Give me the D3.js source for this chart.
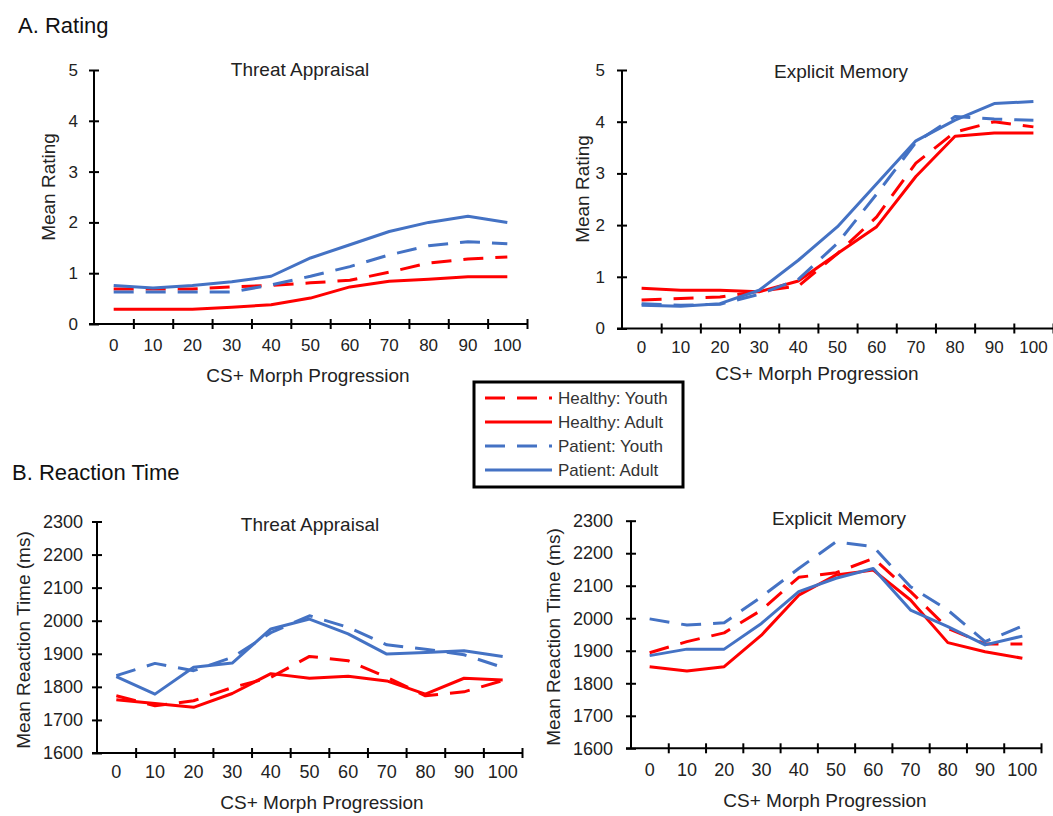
<!DOCTYPE html>
<html>
<head>
<meta charset="utf-8">
<script src="https://cdn.jsdelivr.net/npm/d3@7"></script>
<style>
  html, body { margin: 0; padding: 0; background: #fff; }
  svg { display: block; font-family: "Liberation Sans", Arial, Helvetica, sans-serif; }
</style>
</head>
<body>
<svg id="chart" width="1053" height="816"></svg>
<script>
// ---------------- DATA ----------------
const categories = ["0", "10", "20", "30", "40", "50", "60", "70", "80", "90", "100"];
const seriesNames = ["Healthy: Youth", "Healthy: Adult", "Patient: Youth", "Patient: Adult"];
const ratingTicks = [0, 1, 2, 3, 4, 5];
const rtTicks = [1600, 1700, 1800, 1900, 2000, 2100, 2200, 2300];

// A. Rating — Threat Appraisal
const ratingThreatHealthyYouth = [0.69, 0.69, 0.69, 0.73, 0.76, 0.81, 0.86, 1.02, 1.20, 1.28, 1.32];
const ratingThreatHealthyAdult = [0.29, 0.29, 0.29, 0.33, 0.38, 0.51, 0.73, 0.84, 0.88, 0.93, 0.93];
const ratingThreatPatientYouth = [0.63, 0.63, 0.63, 0.63, 0.77, 0.94, 1.13, 1.36, 1.54, 1.62, 1.58];
const ratingThreatPatientAdult = [0.76, 0.71, 0.76, 0.83, 0.94, 1.30, 1.56, 1.82, 2.00, 2.12, 2.00];

// A. Rating — Explicit Memory
const ratingMemoryHealthyYouth = [0.55, 0.58, 0.61, 0.72, 0.82, 1.45, 2.16, 3.20, 3.80, 4.00, 3.90];
const ratingMemoryHealthyAdult = [0.78, 0.74, 0.74, 0.71, 0.92, 1.45, 1.97, 2.94, 3.72, 3.78, 3.78];
const ratingMemoryPatientYouth = [0.48, 0.45, 0.47, 0.66, 0.95, 1.65, 2.60, 3.60, 4.10, 4.05, 4.03];
const ratingMemoryPatientAdult = [0.45, 0.43, 0.48, 0.74, 1.32, 1.97, 2.80, 3.63, 4.03, 4.35, 4.39];

// B. Reaction Time — Threat Appraisal
const rtThreatHealthyYouth = [1773, 1743, 1758, 1798, 1829, 1892, 1879, 1829, 1773, 1785, 1819];
const rtThreatHealthyAdult = [1761, 1750, 1738, 1780, 1840, 1826, 1832, 1818, 1778, 1826, 1821];
const rtThreatPatientYouth = [1834, 1871, 1849, 1889, 1964, 2015, 1980, 1927, 1914, 1897, 1859];
const rtThreatPatientAdult = [1831, 1778, 1859, 1872, 1975, 2005, 1960, 1899, 1904, 1909, 1892];

// B. Reaction Time — Explicit Memory
const rtMemoryHealthyYouth = [1894, 1928, 1955, 2025, 2126, 2140, 2184, 2082, 1969, 1921, 1921];
const rtMemoryHealthyAdult = [1851, 1838, 1851, 1948, 2071, 2133, 2148, 2056, 1925, 1897, 1877];
const rtMemoryPatientYouth = [1998, 1979, 1986, 2066, 2153, 2235, 2220, 2097, 2025, 1928, 1976];
const rtMemoryPatientAdult = [1885, 1905, 1905, 1984, 2082, 2123, 2153, 2025, 1974, 1918, 1945];

// ---------------- STYLE ----------------
const RED = "#ff0000";
const BLUE = "#4472c4";
const styles = [
  { color: RED,  dash: "20,12" },
  { color: RED,  dash: null },
  { color: BLUE, dash: "20,12" },
  { color: BLUE, dash: null }
];
const FONT = '"Liberation Sans", Arial, Helvetica, sans-serif';

const svg = d3.select("#chart");

function panel(cfg) {
  const g = svg.append("g");
  const x = d3.scaleBand().domain(categories).range([cfg.x0, cfg.x1]).padding(0);
  const xEdge = d3.scaleLinear().domain([0, categories.length]).range([cfg.x0, cfg.x1]);
  const y = d3.scaleLinear().domain(cfg.domain).range([cfg.yBottom, cfg.yTop]);

  // series lines
  const line = d3.line()
    .x((d, i) => x(categories[i]) + x.bandwidth() / 2)
    .y(d => y(d));
  cfg.series.forEach((vals, i) => {
    g.append("path")
      .datum(vals)
      .attr("d", line)
      .attr("fill", "none")
      .attr("stroke", styles[i].color)
      .attr("stroke-width", 3)
      .attr("stroke-linejoin", "round")
      .attr("stroke-dasharray", styles[i].dash);
  });

  // y axis
  const yAxis = g.append("g")
    .attr("transform", `translate(${cfg.x0},0)`)
    .call(d3.axisLeft(y).tickValues(cfg.yTicks).tickFormat(d3.format("d"))
      .tickSize(5).tickPadding(cfg.yPad).tickSizeOuter(0));
  yAxis.select(".domain").attr("stroke", "#000").attr("stroke-width", 2)
    .attr("d", `M0,${cfg.yBottom}V${cfg.yTop}`);
  yAxis.selectAll(".tick line").attr("x1", 5).attr("stroke-width", 2);
  yAxis.selectAll(".tick text").attr("font-size", cfg.tickFont).attr("font-family", FONT).attr("fill", "#222");

  // x axis: tick marks at category boundaries
  const xTicksG = g.append("g")
    .attr("transform", `translate(0,${cfg.yBottom})`)
    .call(d3.axisBottom(xEdge).tickValues(d3.range(1, categories.length + 1)).tickSize(5).tickFormat("").tickSizeOuter(0));
  xTicksG.select(".domain").attr("stroke", "#000").attr("stroke-width", 2)
    .attr("d", `M${cfg.x0 - 5},0H${cfg.x1}`);
  xTicksG.selectAll(".tick line").attr("y1", -5).attr("stroke-width", 2);

  // x axis: labels centered in categories
  const xLab = g.append("g")
    .attr("transform", `translate(0,${cfg.yBottom})`)
    .call(d3.axisBottom(x).tickSize(0).tickPadding(cfg.xPad));
  xLab.select(".domain").remove();
  xLab.selectAll(".tick text").attr("font-size", cfg.tickFont).attr("font-family", FONT).attr("fill", "#222");

  // titles
  g.append("text").attr("x", cfg.title[0]).attr("y", cfg.title[1])
    .attr("text-anchor", "middle").attr("font-size", 19).attr("fill", "#222").text(cfg.titleText);
  g.append("text").attr("x", cfg.xTitle[0]).attr("y", cfg.xTitle[1])
    .attr("text-anchor", "middle").attr("font-size", 19).attr("fill", "#222").text("CS+ Morph Progression");
  g.append("text")
    .attr("transform", `translate(${cfg.yTitle[0]},${cfg.yTitle[1]}) rotate(-90)`)
    .attr("text-anchor", "middle").attr("font-size", 19).attr("fill", "#222").text(cfg.yTitleText);
}

panel({
  x0: 94, x1: 527, yBottom: 324, yTop: 70, domain: [0, 5], yTicks: ratingTicks,
  yPad: 11, xPad: 15, tickFont: 17,
  series: [ratingThreatHealthyYouth, ratingThreatHealthyAdult, ratingThreatPatientYouth, ratingThreatPatientAdult],
  titleText: "Threat Appraisal", title: [300, 76],
  xTitle: [308, 382], yTitle: [55, 187], yTitleText: "Mean Rating"
});
panel({
  x0: 622, x1: 1053, yBottom: 328.5, yTop: 70, domain: [0, 5], yTicks: ratingTicks,
  yPad: 12, xPad: 12, tickFont: 17,
  series: [ratingMemoryHealthyYouth, ratingMemoryHealthyAdult, ratingMemoryPatientYouth, ratingMemoryPatientAdult],
  titleText: "Explicit Memory", title: [841, 78],
  xTitle: [817, 380], yTitle: [589, 189], yTitleText: "Mean Rating"
});
panel({
  x0: 97, x1: 522, yBottom: 753, yTop: 521.5, domain: [1600, 2300], yTicks: rtTicks,
  yPad: 9, xPad: 12, tickFont: 18,
  series: [rtThreatHealthyYouth, rtThreatHealthyAdult, rtThreatPatientYouth, rtThreatPatientAdult],
  titleText: "Threat Appraisal", title: [310, 531],
  xTitle: [322, 809], yTitle: [30, 640], yTitleText: "Mean Reaction Time (ms)"
});
panel({
  x0: 631, x1: 1041, yBottom: 748.3, yTop: 520.7, domain: [1600, 2300], yTicks: rtTicks,
  yPad: 13, xPad: 15, tickFont: 18,
  series: [rtMemoryHealthyYouth, rtMemoryHealthyAdult, rtMemoryPatientYouth, rtMemoryPatientAdult],
  titleText: "Explicit Memory", title: [839, 525],
  xTitle: [825, 807], yTitle: [560, 637], yTitleText: "Mean Reaction Time (ms)"
});

// section titles
svg.append("text").attr("x", 18).attr("y", 33).attr("font-size", 22).attr("fill", "#111").text("A. Rating");
svg.append("text").attr("x", 12).attr("y", 480).attr("font-size", 22).attr("fill", "#111").text("B. Reaction Time");

// legend
const legend = svg.append("g");
legend.append("rect").attr("x", 474).attr("y", 382).attr("width", 209).attr("height", 105)
  .attr("fill", "#fff").attr("stroke", "#000").attr("stroke-width", 3);
const legendY = d3.scalePoint().domain(seriesNames).range([398, 470]);
seriesNames.forEach((name, i) => {
  const yy = legendY(name);
  legend.append("line").attr("x1", 485).attr("x2", 552).attr("y1", yy).attr("y2", yy)
    .attr("stroke", styles[i].color).attr("stroke-width", 3).attr("stroke-dasharray", styles[i].dash);
  legend.append("text").attr("x", 558).attr("y", yy + 6).attr("font-size", 17).attr("fill", "#333").text(name);
});
</script>
</body>
</html>
